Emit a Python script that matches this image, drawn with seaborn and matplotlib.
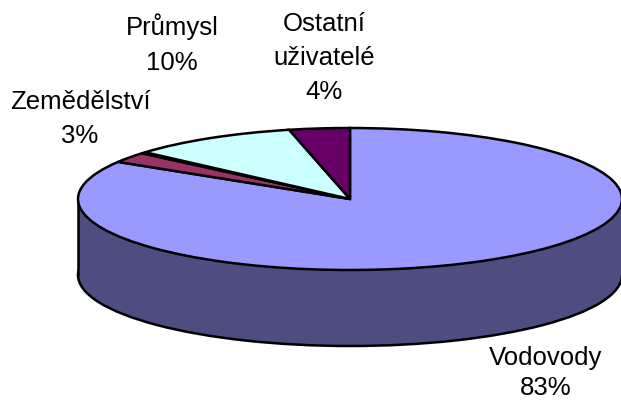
import matplotlib
matplotlib.use("Agg")
import matplotlib.pyplot as plt
import seaborn as sns

sns.set_theme(style="white")
plt.rcParams['font.family'] = ['Liberation Sans', 'DejaVu Sans']

# slice shares as measured on the rim, clockwise from the top
names = ['Vodovody', 'Zemědělství', '', 'Průmysl', 'Ostatní\nuživatelé']
shares = [84.0, 2.4, 0.3, 10.0, 3.6]
percent_labels = ['83%', '3%', '', '10%', '4%']
top_colors = ['#9999FF', '#993366', '#FFFFCC', '#CCFFFF', '#660066']
side_color = '#4D4D80'

W, H = 621, 401
CX, CY = 350, 199
RX, RY = 272, 71
DEPTH = 76 / RY

fig = plt.figure(figsize=(W / 100, H / 100), dpi=100)
ax = fig.add_axes([0, 0, 1, 1])

edge = dict(edgecolor='black', linewidth=1.8)

# wall of the cylinder
ax.pie([1], radius=1, center=(0, -DEPTH), colors=[side_color], wedgeprops=edge)
ax.fill_between([-1, 1], -DEPTH, 0, color=side_color, zorder=2, lw=0)
ax.vlines([-1, 1], -DEPTH, 0, color='black', linewidth=1.8, zorder=3, capstyle='round')

# top face
wedges, _ = ax.pie(shares, startangle=90, counterclock=False, colors=top_colors,
                   radius=1, center=(0, 0), wedgeprops=edge)
for w in wedges:
    w.set_zorder(4)

ax.set_aspect('auto')
ax.set_xlim(-CX / RX, (W - CX) / RX)
ax.set_ylim(-(H - CY) / RY, CY / RY)
ax.axis('off')

label_pos = {'Vodovody': (546, 373, 1.3), 'Zemědělství': (80, 119, 1.55), 'Průmysl': (172, 44, 1.55),
             'Ostatní\nuživatelé': (324, 58, 1.55)}
for name, pct in zip(names, percent_labels):
    if not name:
        continue
    x, y, spacing = label_pos[name]
    fig.text(x / W, 1 - y / H, name + '\n' + pct, ha='center', va='center',
             fontsize=18.5, color='black', linespacing=spacing)

fig.savefig('out.png', dpi=100)
